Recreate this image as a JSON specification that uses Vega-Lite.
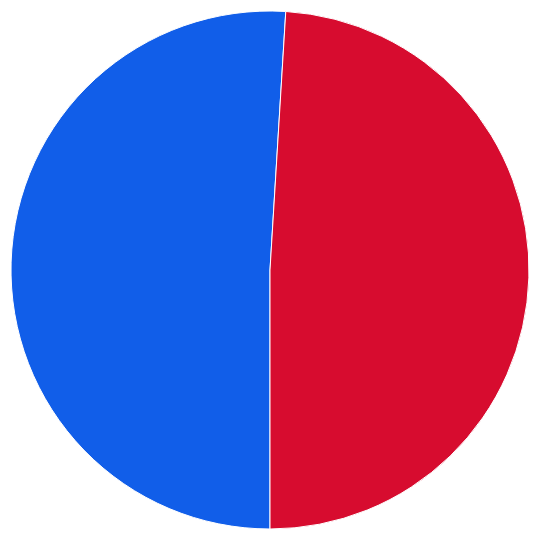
{
  "$schema": "https://vega.github.io/schema/vega-lite/v6.json",
  "autosize": {"type": "fit", "contains": "padding"},
  "width": 540,
  "height": 540,
  "padding": 9,
  "background": "white",
  "data": {
    "values": [
      {"party": "Blue", "share": 50.97, "rank": 1},
      {"party": "Red", "share": 49.03, "rank": 2}
    ]
  },
  "mark": {"type": "arc", "stroke": "white", "strokeWidth": 1},
  "encoding": {
    "theta": {
      "field": "share",
      "type": "quantitative",
      "stack": true,
      "scale": {"range": [3.14159265, 9.42477796]}
    },
    "order": {"field": "rank", "type": "quantitative"},
    "color": {
      "field": "party",
      "type": "nominal",
      "scale": {"domain": ["Blue", "Red"], "range": ["#115ee9", "#d70c2f"]},
      "legend": null
    }
  },
  "config": {"view": {"stroke": null}}
}
